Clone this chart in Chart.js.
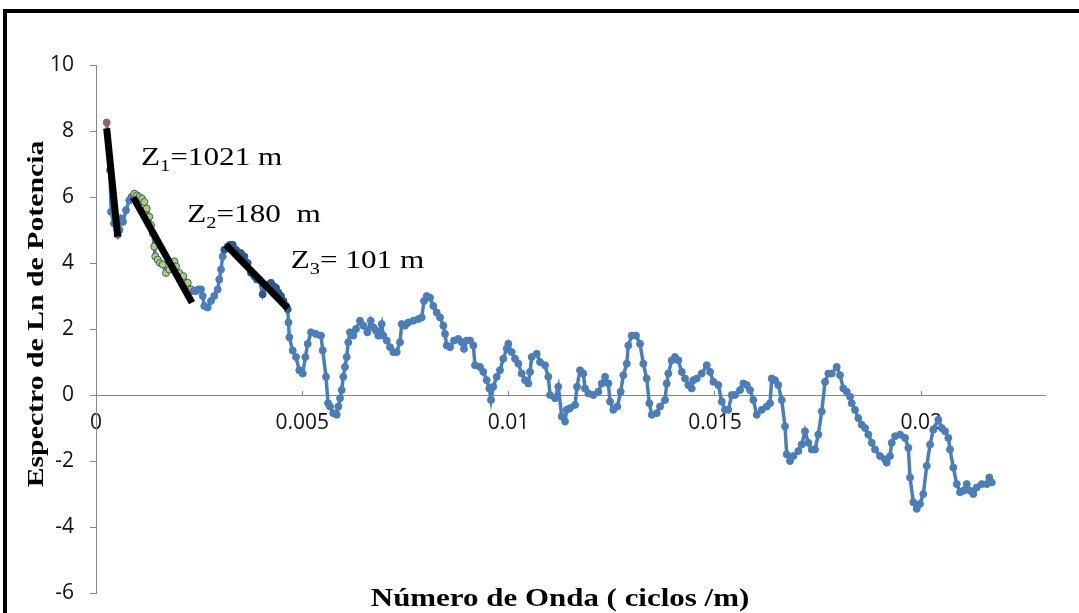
<!DOCTYPE html>
<html>
<head>
<meta charset="utf-8">
<script src="https://cdn.jsdelivr.net/npm/chart.js@4/dist/chart.umd.min.js"></script>
<style>
  html, body { margin: 0; padding: 0; background: #fff; }
  #wrap { width: 1079px; height: 613px; }
</style>
</head>
<body>
<div id="wrap"><canvas id="spectrum" width="1079" height="613"></canvas></div>
<script>
// wave number (ciclos/m)
const waveNumber = [
  0.000259, 0.000339, 0.000364, 0.000436, 0.000526, 0.000570, 0.000606, 0.000654, 0.000727, 0.000807,
  0.000860, 0.000928, 0.000994, 0.001049, 0.001115, 0.001171, 0.001229, 0.001292, 0.001333, 0.001374,
  0.001413, 0.001437, 0.001495, 0.001551, 0.001617, 0.001697, 0.001777, 0.001842, 0.001898, 0.001939,
  0.002019, 0.002116, 0.002223, 0.002303, 0.002363, 0.002424, 0.002484, 0.002545, 0.002586, 0.002625,
  0.002707, 0.002787, 0.002867, 0.002950, 0.002988, 0.003030, 0.003071, 0.003110, 0.003192, 0.003248,
  0.003313, 0.003393, 0.003454, 0.003514, 0.003594, 0.003677, 0.003757, 0.003837, 0.003902, 0.003958,
  0.004040, 0.004120, 0.004181, 0.004241, 0.004302, 0.004363, 0.004423, 0.004484, 0.004544, 0.004605,
  0.004646, 0.004666, 0.004685, 0.004767, 0.004847, 0.004927, 0.005010, 0.005073, 0.005131, 0.005211,
  0.005332, 0.005453, 0.005495, 0.005575, 0.005623, 0.005671, 0.005751, 0.005834, 0.005873, 0.005914,
  0.005955, 0.005994, 0.006035, 0.006076, 0.006115, 0.006156, 0.006236, 0.006302, 0.006399, 0.006479,
  0.006576, 0.006658, 0.006721, 0.006786, 0.006842, 0.006925, 0.006963, 0.007046, 0.007126, 0.007206,
  0.007288, 0.007368, 0.007409, 0.007489, 0.007569, 0.007690, 0.007812, 0.007894, 0.007950, 0.008015,
  0.008095, 0.008175, 0.008258, 0.008338, 0.008418, 0.008459, 0.008500, 0.008580, 0.008677, 0.008781,
  0.008863, 0.008919, 0.008985, 0.009065, 0.009145, 0.009186, 0.009307, 0.009387, 0.009469, 0.009532,
  0.009574, 0.009629, 0.009712, 0.009792, 0.009872, 0.009954, 0.009993, 0.010075, 0.010155, 0.010235,
  0.010318, 0.010398, 0.010478, 0.010519, 0.010560, 0.010681, 0.010761, 0.010882, 0.010962, 0.011004,
  0.011125, 0.011205, 0.011287, 0.011367, 0.011408, 0.011488, 0.011610, 0.011658, 0.011731, 0.011811,
  0.011852, 0.011932, 0.012053, 0.012174, 0.012257, 0.012337, 0.012417, 0.012458, 0.012538, 0.012635,
  0.012717, 0.012780, 0.012863, 0.012901, 0.012984, 0.013088, 0.013185, 0.013265, 0.013347, 0.013410,
  0.013469, 0.013590, 0.013670, 0.013791, 0.013832, 0.013871, 0.013953, 0.014033, 0.014113, 0.014196,
  0.014276, 0.014356, 0.014438, 0.014477, 0.014559, 0.014680, 0.014802, 0.014882, 0.014962, 0.015083,
  0.015165, 0.015245, 0.015325, 0.015407, 0.015487, 0.015609, 0.015689, 0.015771, 0.015851, 0.015931,
  0.016013, 0.016135, 0.016256, 0.016336, 0.016377, 0.016457, 0.016537, 0.016619, 0.016699, 0.016740,
  0.016820, 0.016900, 0.017022, 0.017104, 0.017184, 0.017264, 0.017346, 0.017426, 0.017506, 0.017589,
  0.017669, 0.017749, 0.017831, 0.017952, 0.018032, 0.018112, 0.018195, 0.018275, 0.018316, 0.018396,
  0.018476, 0.018558, 0.018638, 0.018718, 0.018801, 0.018881, 0.019002, 0.019123, 0.019164, 0.019244,
  0.019285, 0.019365, 0.019487, 0.019608, 0.019688, 0.019729, 0.019809, 0.019891, 0.019971, 0.020051,
  0.020134, 0.020214, 0.020294, 0.020415, 0.020497, 0.020577, 0.020657, 0.020698, 0.020778, 0.020861,
  0.020941, 0.021021, 0.021103, 0.021183, 0.021263, 0.021346, 0.021467, 0.021588, 0.021651, 0.021709
];

// Ln of power spectrum
const lnPower = [
  8.26, 6.82, 5.55, 5.2, 4.85, 5.0, 5.35, 5.25, 5.6, 5.9,
  6.0, 6.1, 6.05, 6.0, 5.95, 5.85, 5.65, 5.4, 5.15, 4.9,
  4.5, 4.2, 4.1, 4.0, 3.95, 3.7, 3.8, 3.95, 4.05, 3.9,
  3.7, 3.6, 3.4, 3.2, 3.15, 3.15, 3.2, 3.2, 3.0, 2.7,
  2.65, 2.85, 3.0, 3.2, 3.5, 3.8, 4.2, 4.4, 4.5, 4.55,
  4.55, 4.4, 4.3, 4.3, 4.2, 4.0, 3.7, 3.6, 3.5, 3.5,
  3.05, 3.3, 3.35, 3.4, 3.3, 3.25, 3.1, 3.0, 2.85, 2.7,
  2.6, 2.2, 1.75, 1.35, 1.15, 0.75, 0.65, 1.15, 1.55, 1.9,
  1.85, 1.8, 1.35, 0.55, -0.25, -0.35, -0.55, -0.6, -0.35, -0.1,
  0.15, 0.55, 0.85, 1.15, 1.6, 1.9, 1.8, 2.0, 2.25, 2.1,
  1.9, 2.25, 2.05, 1.95, 1.8, 2.15, 1.8, 1.65, 1.45, 1.3,
  1.3, 1.6, 2.15, 2.1, 2.2, 2.25, 2.3, 2.35, 2.85, 3.0,
  2.95, 2.7, 2.5, 2.35, 2.1, 1.85, 1.5, 1.45, 1.65, 1.7,
  1.6, 1.4, 1.65, 1.65, 1.5, 0.9, 0.85, 0.7, 0.45, 0.2,
  -0.15, 0.25, 0.55, 0.75, 1.1, 1.4, 1.55, 1.3, 1.1, 0.95,
  0.65, 0.45, 0.35, 0.7, 1.15, 1.25, 1.0, 0.9, 0.55, 0.0,
  -0.1, 0.25, -0.65, -0.8, -0.45, -0.4, -0.3, 0.25, 0.75, 0.65,
  0.2, 0.05, 0.0, 0.1, 0.35, 0.55, 0.35, -0.2, -0.45, -0.35,
  0.1, 0.6, 0.95, 1.5, 1.8, 1.8, 1.55, 0.95, 0.5, -0.25,
  -0.6, -0.55, -0.35, -0.15, 0.35, 0.65, 1.05, 1.15, 1.05, 0.7,
  0.5, 0.3, 0.2, 0.45, 0.5, 0.65, 0.9, 0.7, 0.4, 0.3,
  -0.2, -0.45, -0.45, 0.0, 0.0, 0.15, 0.35, 0.3, 0.15, -0.15,
  -0.6, -0.45, -0.35, -0.25, 0.5, 0.45, 0.3, -0.15, -0.95, -1.8,
  -2.0, -1.85, -1.7, -1.5, -1.1, -1.45, -1.65, -1.65, -1.2, -0.5,
  0.4, 0.65, 0.65, 0.85, 0.6, 0.2, 0.1, -0.05, -0.25, -0.45,
  -0.7, -0.9, -1.0, -1.2, -1.45, -1.65, -1.85, -1.95, -2.05, -1.85,
  -1.45, -1.25, -1.2, -1.3, -1.6, -2.5, -3.25, -3.45, -3.3, -3.0,
  -2.15, -1.5, -1.05, -0.75, -1.0, -1.1, -1.3, -1.65, -2.2, -2.7,
  -2.95, -2.9, -2.7, -2.9, -3.0, -2.8, -2.7, -2.7, -2.5, -2.65
];

// straight fits (start / end), one per depth estimate
const fitStartX = [0.000259, 0.000904, 0.003151];
const fitStartY = [8.08, 5.99, 4.55];
const fitEndX = [0.000526, 0.002327, 0.004646];
const fitEndY = [4.80, 2.80, 2.63];

// depth labels
const depthNames = ['1', '2', '3'];
const depthTexts = ['=1021 m', '=180  m', '= 101 m'];

const yTicks = [-6, -4, -2, 0, 2, 4, 6, 8, 10];
const xTickStep = 0.005;

const yTitle = 'Espectro de Ln de Potencia';
const xTitle = 'Número de Onda ( ciclos /m)';

// where the depth labels sit (data units, left/baseline)
const notePos = [
  { x: 0.00109, y: 6.97 },
  { x: 0.00221, y: 5.24 },
  { x: 0.00472, y: 3.85 }
];

const BLUE = '#4A7EBB';

function pointFill(ctx) {
  const x = waveNumber[ctx.dataIndex];
  if (ctx.dataIndex === 0) return '#C0504D';
  if (x >= 0.0009 && x <= 0.00236) return '#B9CF5C';
  if (x >= 0.0031 && x <= 0.00466) return '#2B5A8E';
  return BLUE;
}

function pointEdge(ctx) {
  const x = waveNumber[ctx.dataIndex];
  if (x >= 0.0009 && x <= 0.00236) return '#2F5F96';
  if (x >= 0.0031 && x <= 0.00466) return '#2B5A8E';
  return BLUE;
}

// white page, black frame, axis titles and depth labels
const decorations = {
  id: 'decorations',
  beforeDraw(chart) {
    const c = chart.ctx;
    c.save();
    c.fillStyle = '#fff';
    c.fillRect(0, 0, chart.width, chart.height);
    c.fillStyle = '#000';
    c.fillRect(3, 9, chart.width, 4);
    c.fillRect(3, 9, 4, chart.height);
    c.restore();
  },
  afterDraw(chart) {
    const c = chart.ctx;
    const xs = chart.scales.x, ys = chart.scales.y;
    c.save();
    c.fillStyle = '#000';

    // y title
    c.save();
    c.translate(43, 314);
    c.rotate(-Math.PI / 2);
    c.scale(1.24, 1);
    c.font = 'bold 24px "Liberation Serif"';
    c.textAlign = 'center';
    c.textBaseline = 'alphabetic';
    c.fillText(yTitle, 0, 0);
    c.restore();

    // x title
    c.save();
    c.translate(560, 606);
    c.scale(1.19, 1);
    c.font = 'bold 26px "Liberation Serif"';
    c.textAlign = 'center';
    c.textBaseline = 'alphabetic';
    c.fillText(xTitle, 0, 0);
    c.restore();

    // Z labels with subscripts
    notePos.forEach((p, i) => {
      c.save();
      c.translate(xs.getPixelForValue(p.x), ys.getPixelForValue(p.y));
      c.scale(1.2, 1);
      c.textAlign = 'left';
      c.textBaseline = 'alphabetic';
      c.font = '26px "Liberation Serif"';
      c.fillText('Z', 0, 0);
      let w = c.measureText('Z').width;
      c.font = '17px "Liberation Serif"';
      c.fillText(depthNames[i], w, 6);
      w += c.measureText(depthNames[i]).width;
      c.font = '26px "Liberation Serif"';
      c.fillText(depthTexts[i], w, 0);
      c.restore();
    });
    c.restore();
  }
};

const fitSets = fitStartX.map((x0, i) => ({
  data: [{ x: x0, y: fitStartY[i] }, { x: fitEndX[i], y: fitEndY[i] }],
  borderColor: '#000',
  borderWidth: 7,
  pointRadius: 0,
  order: 1
}));

const ctx = document.getElementById('spectrum').getContext('2d');
new Chart(ctx, {
  type: 'line',
  data: {
    datasets: [
      ...fitSets,
      {
        label: 'Espectro',
        data: waveNumber.map((x, i) => ({ x: x, y: lnPower[i] })),
        borderColor: BLUE,
        borderWidth: 3.5,
        pointRadius: 3.5,
        pointBorderWidth: 1,
        pointBackgroundColor: pointFill,
        pointBorderColor: pointEdge,
        tension: 0,
        order: 2
      }
    ]
  },
  options: {
    responsive: false,
    animation: false,
    events: [],
    layout: { padding: { top: 65, right: 34, bottom: 0, left: 0 } },
    plugins: {
      legend: { display: false },
      tooltip: { enabled: false }
    },
    scales: {
      x: {
        type: 'linear',
        position: { y: 0 },
        min: 0,
        max: 0.023,
        afterFit: (s) => { s.height = 20; },
        grid: { drawOnChartArea: false, drawTicks: true, tickLength: -5, color: '#868686' },
        border: { display: true, color: '#868686', width: 1 },
        ticks: {
          stepSize: xTickStep,
          includeBounds: false,
          padding: 20,
          maxRotation: 0,
          color: '#111',
          font: { family: '"Open Sans"', size: 21 },
          callback: (v) => String(+v.toFixed(4))
        }
      },
      y: {
        type: 'linear',
        position: 'left',
        min: yTicks[0],
        max: yTicks[yTicks.length - 1],
        // fixed axis width, and keep the label overhang from pushing the plot
        afterFit: (s) => { s.width = 96; s.paddingTop = 0; s.paddingBottom = 20; },
        afterBuildTicks: (s) => { s.ticks = yTicks.map(v => ({ value: v })); },
        grid: { drawOnChartArea: false, drawTicks: true, tickLength: 6, color: '#868686' },
        border: { display: true, color: '#868686', width: 1 },
        ticks: {
          padding: 16,
          color: '#111',
          font: { family: '"Open Sans"', size: 21 }
        }
      }
    }
  },
  plugins: [decorations]
});
</script>
</body>
</html>
